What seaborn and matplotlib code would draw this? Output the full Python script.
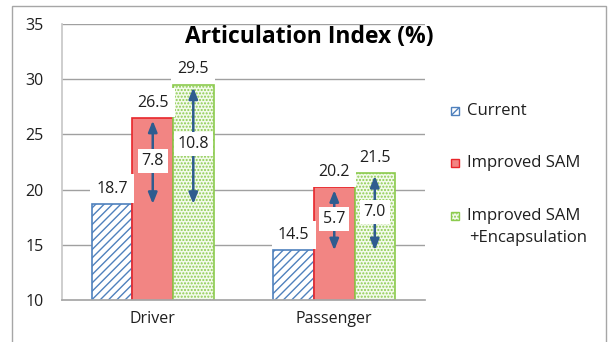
import matplotlib
matplotlib.use("Agg")
import matplotlib.pyplot as plt
from matplotlib.patches import Rectangle
import seaborn as sns
import pandas as pd

# Chart data
seats = ["Driver", "Passenger"]
configs = ["Current", "Improved SAM", "Improved SAM\n+Encapsulation"]
current = [18.7, 14.5]
improved_sam = [26.5, 20.2]
improved_sam_enc = [29.5, 21.5]
y_ticks = [10, 15, 20, 25, 30, 35]

series = [current, improved_sam, improved_sam_enc]
df = pd.DataFrame(
    [(s, c, v) for c, vals in zip(configs, series) for s, v in zip(seats, vals)],
    columns=["Seat", "Config", "AI"],
)

sns.set_theme(style="white")
plt.rcParams["font.family"] = ["Open Sans", "DejaVu Sans"]
plt.rcParams["hatch.linewidth"] = 1.0

W, H = 608, 342
fig = plt.figure(figsize=(W / 100, H / 100), dpi=100)
ax = fig.add_axes([62 / W, 42 / H, (425 - 62) / W, (300 - 24) / H])

styles = [
    dict(facecolor="white", edgecolor="#4F81BD", hatch="////"),
    dict(facecolor="#F28583", edgecolor="#E8262B", hatch=None),
    dict(facecolor="#F3FAEC", edgecolor="#8CCB4E", hatch="....."),
]

sns.barplot(data=df, x="Seat", y="AI", hue="Config", hue_order=configs,
            order=seats, width=0.67, saturation=1, legend=False, ax=ax)

for cont, st in zip(ax.containers, styles):
    for p in cont.patches:
        p.set_facecolor(st["facecolor"])
        p.set_edgecolor(st["edgecolor"])
        p.set_linewidth(1.2)
        if st["hatch"]:
            p.set_hatch(st["hatch"])

ax.set_ylim(10, 35)
ax.set_yticks(y_ticks)
ax.set_xlim(-0.5, 1.5)
ax.set_xlabel("")
ax.set_ylabel("")

# grid and axes
for y in y_ticks[1:]:
    ax.axhline(y, color="#A0A0A0", lw=1.0, zorder=0)
for side in ["top", "right"]:
    ax.spines[side].set_visible(False)
ax.spines["left"].set_color("#C8C8C8")
ax.spines["bottom"].set_color("#A6A6A6")
ax.tick_params(axis="y", which="major", length=5, color="#A6A6A6", width=1,
               labelsize=11.5, labelcolor="#1F1F1F", pad=8)
ax.tick_params(axis="x", which="major", length=0, labelsize=11.5,
               labelcolor="#1F1F1F", pad=8)
ax.set_xticks([-0.5, 0.5, 1.5], minor=True)
ax.tick_params(axis="x", which="minor", length=5, color="#A6A6A6", width=1)

arrow_color = "#2F5C8F"
box = dict(boxstyle="square,pad=0.25", facecolor="white", edgecolor="none")

# value labels
for cont, vals in zip(ax.containers, series):
    for p, v in zip(cont.patches, vals):
        xc = p.get_x() + p.get_width() / 2
        ax.annotate(f"{v:.1f}", (xc, v), xytext=(0, 11), textcoords="offset points",
                    ha="center", va="center", fontsize=11.5, color="#1F1F1F",
                    bbox=dict(boxstyle="square,pad=0.4", facecolor="white",
                              edgecolor="none"), zorder=5)

# improvement arrows relative to the current configuration
for cont, vals in zip(ax.containers[1:], series[1:]):
    for p, v, base in zip(cont.patches, vals, current):
        xc = p.get_x() + p.get_width() / 2
        ax.annotate("", xy=(xc, base), xytext=(xc, v),
                    arrowprops=dict(arrowstyle="<|-|>,head_length=0.55,head_width=0.22",
                                    color=arrow_color, lw=1.8, shrinkA=2, shrinkB=0),
                    zorder=4)
        ax.text(xc, (v + base) / 2, f"{v - base:.1f}", ha="center", va="center",
                fontsize=11.5, color="#1F1F1F", bbox=box, zorder=6)

fig.text(309 / W, 1 - 43 / H, "Articulation Index (%)", ha="center",
         va="baseline", fontsize=16.5, fontweight="bold", color="black")

# legend on the right: swatch + label per configuration
legend_rows = [111, 163, 216]
for st, label, yc in zip(styles, configs, legend_rows):
    fig.patches.append(Rectangle((451 / W, 1 - (yc + 4) / H), 8 / W, 8 / H,
                                 transform=fig.transFigure,
                                 facecolor=st["facecolor"], edgecolor=st["edgecolor"],
                                 hatch=st["hatch"], lw=1.0))
    fig.text(467 / W, 1 - yc / H, label.split("\n")[0], ha="left", va="center",
             fontsize=12, color="#1F1F1F")
    if "\n" in label:
        fig.text(469 / W, 1 - (yc + 22) / H, label.split("\n")[1], ha="left",
                 va="center", fontsize=12, color="#1F1F1F")

# chart frame
fig.patches.append(Rectangle((12 / W, -0.1), (606 - 12) / W, 1.1 - 6 / H,
                             transform=fig.transFigure, fill=False,
                             edgecolor="#A6A6A6", lw=1.0))

fig.savefig("out.png", dpi=100, facecolor="white")
